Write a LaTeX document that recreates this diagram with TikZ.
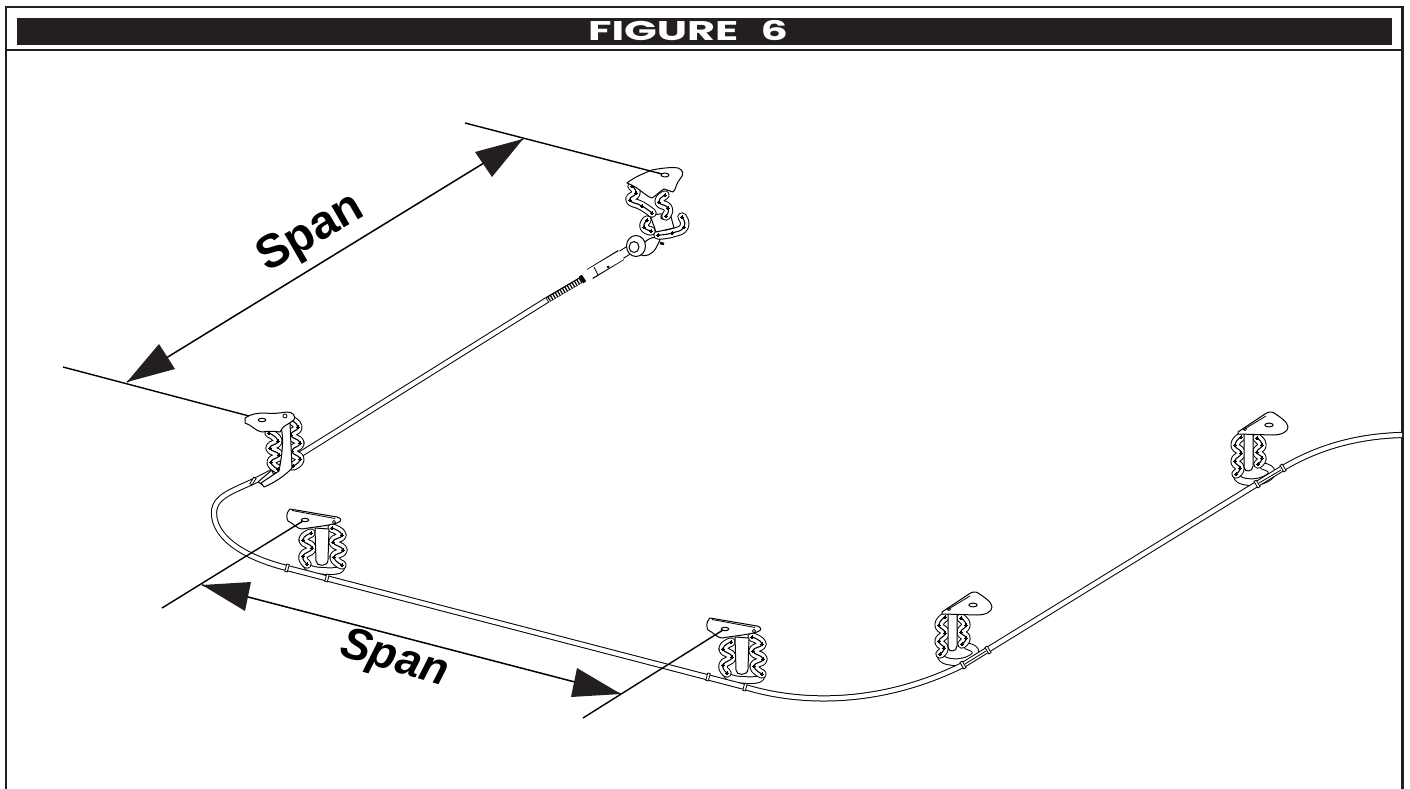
\documentclass[tikz,border=0pt]{standalone}
\usepackage{fontspec}
\setmainfont{Liberation Sans}
\newfontfamily\titlefont{Poppins}
\definecolor{ink}{HTML}{231F20}
\tikzset{
  frameline/.style={draw=ink,line width=2.4pt},
  witness/.style={draw=black,line width=1.4pt},
  dimline/.style={draw=black,line width=1.5pt},
  tipshape/.style={fill=ink,draw=none},
  spanlabel/.style={font=\fontsize{47}{47}\selectfont\bfseries,inner sep=0pt},
  part/.style={draw=black,fill=white,line width=1pt,line join=round},
  thin part/.style={draw=black,line width=.8pt},
  cable outer/.style={draw=black,line width=6.2pt},
  cable inner/.style={draw=white,line width=4.2pt},
}
% chain: a rounded S shaped band with a line and holes along its middle
\newcommand{\lobes}[3]{%
  \draw plot[only marks,mark=*,mark size=#2pt,mark options={fill=#1,draw=#1,line width=0pt}] coordinates {#3};
}
\newcommand{\lobechain}[1]{%
  \draw[black,line width=9.4pt,line cap=round,line join=round] plot[smooth,tension=1] coordinates {#1};
  \draw[white,line width=7.4pt,line cap=round,line join=round] plot[smooth,tension=1] coordinates {#1};
  \draw[black,line width=1.1pt] plot[smooth,tension=1] coordinates {#1};
  \lobes{black}{1.4}{#1}
}
\newcommand{\footband}[1]{%
  \draw[black,line width=7.6pt,line cap=round,line join=round] plot[smooth,tension=.7] coordinates {#1};
  \draw[white,line width=5.6pt,line cap=round,line join=round] plot[smooth,tension=.7] coordinates {#1};
}
\newcommand{\ferrule}[3]{%
  \begin{scope}[shift={(#1,#2)},rotate=#3]
    \filldraw[fill=white,draw=black,line width=.8pt] (-1.3,-3.8) rectangle (1.3,3.8);
  \end{scope}
}
\newcommand{\hangerA}[2]{%
  \begin{scope}[shift={(#1,#2)}]
    \footband{(1,44) (6,49) (20,51) (34,50) (37,44)}
    \lobechain{(6,13) (-2,20) (7,28) (-2,36) (2,44)}
    \lobechain{(27,8) (37,15) (28,22) (38,30) (29,37) (37,45)}
    \path[part] (10,8) -- (24,9) -- (23,40) .. controls (23,47) and (11,47) .. (11,41) -- cycle;
    \path[part] (-15,-11) .. controls (-20,-6) and (-18,-1) .. (-17,1) .. controls (-12,3) and (-8,9) .. (-3,9) .. controls (8,7) and (22,6) .. (32,3) .. controls (38,1) and (36,-2) .. (32,-3) -- cycle;
    \draw[thin part] (-13,-9.5) -- (30,-1.5);
    \draw[thin part] (29,2) circle (1.6);
    \draw[part] (0,0) ellipse (3.8 and 1.7);
  \end{scope}
}
\newcommand{\hangerB}[2]{%
  \begin{scope}[shift={(#1,#2)}]
    \footband{(-33,48) (-29,55) (-14,57) (0,52) (2,45) (-6,41)}
    \lobechain{(-28,12) (-34,20) (-28,28) (-34,36) (-29,43) (-33,49)}
    \lobechain{(-12,13) (-7,20) (-12,27) (-7,33) (-11,39)}
    \path[part] (-25,8) -- (-16,8) -- (-16,41) .. controls (-16,47) and (-25,48) .. (-25,42) -- cycle;
    \path[part] (-31,7) -- (-4,-11) .. controls (-1,-13) and (2,-14) .. (5,-12) .. controls (11,-8) and (19,-3) .. (19,2) .. controls (19,7) and (12,10) .. (4,10) -- (-31,9) -- cycle;
    \draw[thin part] (-26,5) -- (-3,-9);
    \draw[thin part] (-24,4) circle (1.6);
    \draw[part] (0,0) ellipse (4.2 and 1.9);
  \end{scope}
}
\begin{document}
\begin{tikzpicture}[x=1pt,y=-1pt]
\useasboundingbox (0,0) rectangle (1410,789);
% frame
\draw[frameline] (6,789) -- (6,7) -- (1402.5,7) -- (1402.5,789);
\draw[frameline] (6,50) -- (1402.5,50);
\node[fill=ink,minimum width=1375pt,minimum height=27pt,inner sep=0pt,anchor=north west] (bar) at (17,18) {};
\node[text=white,inner sep=0pt,xscale=1.59,font=\fontsize{27}{27}\selectfont\titlefont\bfseries] (title) at (688,31) {FIGURE\hspace{14pt}6};

% hangers behind the cable
\hangerA{305}{520}
\hangerA{725}{629}
\hangerB{973}{605}
\hangerB{1269}{425}

% cable
\def\cablepath{(547,300) -- (272,472) .. controls (240,490) and (214,493) .. (214,513) .. controls (214,540) and (250,559) .. (287,568) -- (745,687) .. controls (800,704) and (880,706) .. (963,665) -- (1283,468) .. controls (1320,446) and (1360,436) .. (1402,435)}
\draw[cable outer] \cablepath;
\draw[cable inner] \cablepath;
\draw[thin part] (965,664) -- (986,651);
\draw[thin part] (1259,483) -- (1281,470);
\ferrule{253}{481}{-32}
\ferrule{287}{568}{-14.5}
\ferrule{327}{578}{-14.5}
\ferrule{708}{677}{-14.5}
\ferrule{745}{687}{-14.5}
\ferrule{963}{665}{31}
\ferrule{988}{650}{31}
\ferrule{1257}{484}{31}
\ferrule{1283}{468}{31}

% upper left clamp
\lobechain{(269,433) (278,441) (270,448) (279,455) (271,462) (278,469)}
\lobechain{(289,419) (298,427) (291,435) (300,443) (292,451) (300,459) (293,466)}
\path[part] (258,482) -- (272,470) -- (274,476) -- (263,485) -- cycle;
\path[part] (280,424) -- (290,423) -- (292,468) .. controls (285,476) and (272,484) .. (264,487) -- (261,483) -- (279,471) .. controls (283,450) and (284,435) .. (280,424) -- cycle;
\path[part] (245,418) .. controls (250,414) and (258,413) .. (265,413) .. controls (273,414) and (280,413) .. (287,412) .. controls (293,412) and (296,416) .. (294,420) -- (288,424) .. controls (284,426) and (282,428) .. (280,432) .. controls (274,431) and (268,431) .. (262,432) .. controls (255,431) and (252,425) .. (245,423) -- cycle;
\draw[part] (262,420) ellipse (3.8 and 1.7);
\draw[thin part] (285,416) circle (2);

% upper fitting
\path[part] (644,243) .. controls (650,236) and (660,236) .. (660,240) -- (656,248) .. controls (652,255) and (645,257) .. (641,255) -- cycle;
\draw[black,line width=2.5pt] (660,243) -- (664,244);
\lobechain{(682,217) (684,227) (672,233) (658,235)}
\lobechain{(647,220) (644,227) (651,231)}
\path[part] (650,215) -- (670,213) -- (674,228) -- (656,232) -- cycle;
\draw[part] (663,217) circle (2.2);
\lobechain{(632,186) (636,193) (630,200) (642,206) (652,213)}
\lobechain{(665,195) (659,202) (668,208) (666,216)}
\path[part] (627,183) .. controls (633,178) and (642,174) .. (652,170) .. controls (662,168) and (672,167) .. (678,168) .. controls (684,170) and (684,175) .. (680,179) .. controls (676,183) and (676,190) .. (673,192) -- (664,189) .. controls (660,191) and (657,195) .. (652,198) .. controls (645,196) and (640,188) .. (627,183) -- cycle;
\draw[part] (665,175) ellipse (4 and 2);
% fitting body
\draw[black,line width=9pt] (632,248) -- (618,257);
\draw[white,line width=7pt] (632.5,248) -- (617.5,257);
\draw[black,line width=11.5pt] (621,255) -- (590,274);
\draw[white,line width=9.5pt] (621.5,255) -- (589.5,274);
\draw[thin part] (594,267) -- (598,275);
\fill[black] (608,267) circle (1.5);
\draw[black,line width=8pt] (584,278) -- (581,280);
\draw[black,line width=6.2pt] (581,280) -- (547,300);
\draw[white,line width=4.4pt,dash pattern=on 1.3pt off 1.5pt] (580,281) -- (548,300);
\draw[part] (636,246) ellipse (9.5 and 10.5);
\draw[part] (634,247) ellipse (5 and 5.5);
\node[inner sep=0pt] (fitting) at (636,246) {};

% witness lines
\coordinate (topfree) at (465,123);
\coordinate (tophole) at (662,174);
\coordinate (leftfree) at (63,367);
\coordinate (lefthole) at (249,416);
\coordinate (afree) at (162,608);
\coordinate (ahole) at (303,521);
\coordinate (bfree) at (583,718);
\coordinate (bhole) at (723,630);
\draw[witness] (topfree) -- (tophole);
\draw[witness] (leftfree) -- (lefthole);
\draw[witness] (afree) -- (ahole);
\draw[witness] (bfree) -- (bhole);

% dimension 1
\coordinate (d1a) at (523,139);
\coordinate (d1b) at (127,382);
\draw[dimline] (d1a) -- (d1b);
\fill[tipshape] (d1a) -- (475,152) -- (492,177) -- cycle;
\fill[tipshape] (d1b) -- (159,344) -- (175,369) -- cycle;
\node[spanlabel,rotate=30] (span1) at (311,234) {Span};

% dimension 2
\coordinate (d2a) at (202,585);
\coordinate (d2b) at (621,694);
\draw[dimline] (d2a) -- (d2b);
\fill[tipshape] (d2a) -- (251,582) -- (245,611) -- cycle;
\fill[tipshape] (d2b) -- (577,668) -- (571,697) -- cycle;
\node[spanlabel,font=\fontsize{45}{45}\selectfont\bfseries\itshape,rotate=-16] (span2) at (394,660) {Span};
\end{tikzpicture}
\end{document}
